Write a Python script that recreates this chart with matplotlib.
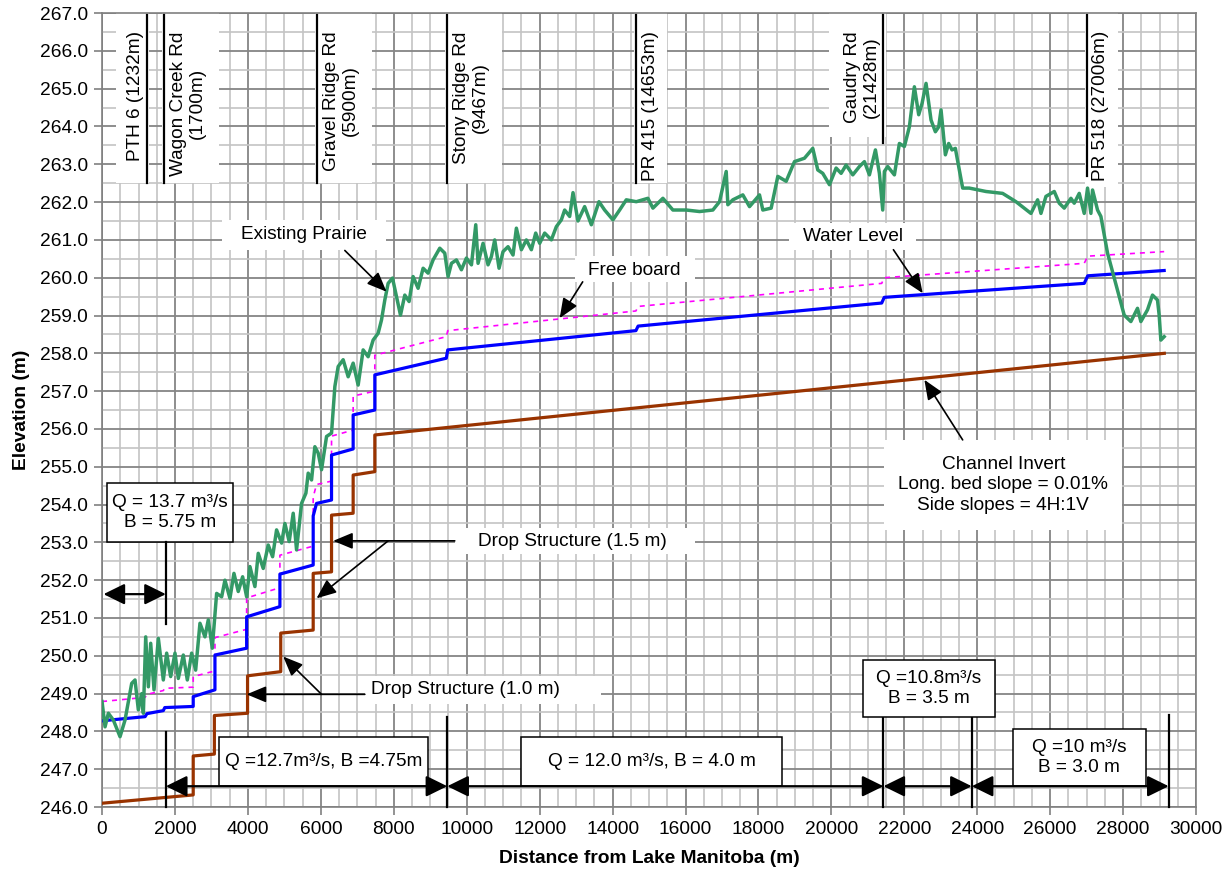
import matplotlib
matplotlib.use('Agg')
import matplotlib.pyplot as plt
from matplotlib.ticker import MultipleLocator, FormatStrFormatter
from matplotlib.patches import Rectangle

plt.rcParams['font.family'] = ['Liberation Sans', 'DejaVu Sans']

# ── data ───────────────────────────────────────────────────────
# existing prairie ground profile
gr_x = [0, 82, 173, 310, 493, 630, 813, 904, 995, 1087, 1133, 1197, 1270, 1334, 1425,
        1544, 1680, 1772, 1882, 2000, 2091, 2228, 2338, 2457, 2567, 2685, 2822, 2913,
        3023, 3142, 3280, 3370, 3507, 3617, 3735, 3855, 3965, 4055, 4192, 4283, 4420,
        4557, 4677, 4786, 4924, 5014, 5132, 5242, 5334, 5471, 5590, 5653, 5745, 5836,
        5927, 6019, 6156, 6293, 6384, 6475, 6612, 6749, 6886, 7023, 7160, 7297, 7434,
        7571, 7663, 7754, 7845, 7965, 8074, 8184, 8302, 8420, 8530, 8667, 8804, 8941,
        9078, 9261, 9398, 9489, 9581, 9718, 9855, 9992, 10130, 10248, 10311, 10448,
        10585, 10677, 10768, 10887, 10996, 11133, 11270, 11362, 11499, 11636, 11773,
        11892, 12001, 12138, 12321, 12458, 12595, 12686, 12823, 12915, 13051, 13234,
        13418, 13627, 13782, 14010, 14193, 14376, 14650, 14969, 15106, 15380, 15654,
        16020, 16385, 16750, 16933, 17116, 17161, 17298, 17572, 17755, 18029, 18120,
        18349, 18531, 18760, 18988, 19262, 19490, 19627, 19764, 19947, 20130, 20267,
        20404, 20587, 20769, 20906, 21043, 21208, 21317, 21408, 21454, 21545, 21728,
        21865, 22002, 22139, 22276, 22395, 22487, 22596, 22733, 22852, 22943, 23007,
        23126, 23217, 23308, 23400, 23600, 23783, 24240, 24696, 25062, 25473, 25656,
        25747, 25884, 26112, 26249, 26386, 26569, 26660, 26797, 26934, 27025, 27117,
        27162, 27299, 27391, 27573, 27893, 28030, 28213, 28395, 28487, 28669, 28806,
        28943, 28989, 29035, 29126]
gr_y = [248.79, 248.12, 248.48, 248.30, 247.86, 248.30, 249.27, 249.36, 248.57, 249.00,
        248.48, 250.50, 249.18, 250.33, 249.10, 250.46, 249.36, 250.07, 249.45, 250.07,
        249.40, 250.02, 249.36, 250.07, 249.62, 250.86, 250.50, 250.95, 250.20, 251.65,
        251.56, 252.00, 251.52, 252.18, 251.70, 252.09, 251.56, 252.36, 251.83, 252.71,
        252.31, 252.93, 252.62, 253.33, 252.98, 253.50, 253.02, 253.77, 252.80, 254.03,
        254.30, 254.83, 254.65, 255.53, 255.36, 254.92, 255.80, 255.89, 257.12, 257.65,
        257.83, 257.38, 257.74, 257.16, 258.09, 257.91, 258.35, 258.53, 258.88, 259.41,
        259.85, 259.99, 259.50, 259.01, 259.54, 259.37, 260.03, 259.72, 260.25, 260.12,
        260.47, 260.78, 260.65, 260.03, 260.38, 260.47, 260.21, 260.52, 260.34, 261.40,
        260.38, 260.91, 260.34, 260.56, 261.00, 260.25, 260.69, 260.82, 260.60, 261.31,
        260.74, 261.00, 260.74, 261.18, 260.91, 261.18, 261.00, 261.35, 261.53, 261.79,
        261.62, 262.25, 261.50, 261.88, 261.40, 262.01, 261.79, 261.53, 261.79, 262.06,
        262.01, 262.10, 261.84, 262.10, 261.79, 261.79, 261.75, 261.79, 262.01, 262.81,
        261.93, 262.06, 262.19, 261.88, 262.19, 261.79, 261.84, 262.68, 262.55, 263.07,
        263.16, 263.42, 262.85, 262.76, 262.46, 262.90, 262.76, 262.98, 262.72, 262.94,
        263.07, 262.72, 263.38, 262.76, 261.79, 262.81, 262.94, 262.72, 263.55, 263.47,
        263.99, 265.05, 264.31, 264.61, 265.14, 264.17, 263.86, 263.99, 264.44, 263.25,
        263.55, 263.38, 263.42, 262.37, 262.37, 262.28, 262.23, 262.01, 261.70, 262.06,
        261.70, 262.15, 262.28, 261.97, 261.84, 262.10, 261.97, 262.23, 261.70, 262.37,
        261.70, 262.32, 261.79, 261.62, 260.65, 259.50, 259.01, 258.84, 259.19, 258.84,
        259.15, 259.54, 259.41, 259.01, 258.35, 258.44]

# channel invert
inv_x = [0, 2500, 2500, 3080, 3080, 3990, 3990, 4900, 4900, 5790, 5790, 6293, 6293,
         6886, 6886, 7480, 7480, 29130]
inv_y = [246.10, 246.32, 247.35, 247.40, 248.42, 248.48, 249.47, 249.58, 250.60, 250.68,
         252.18, 252.22, 253.72, 253.77, 254.78, 254.87, 255.84, 258.00]

# water level
wl_x = [0, 1180, 1232, 1680, 1720, 2500, 2500, 3096, 3096, 3965, 3965, 4877, 4877, 5790,
        5790, 5882, 6293, 6293, 6886, 6886, 7480, 7480, 9440, 9480, 14640, 14700, 21380,
        21450, 26934, 27030, 29126]
wl_y = [248.28, 248.39, 248.47, 248.55, 248.63, 248.66, 248.92, 249.10, 250.02, 250.20,
        251.03, 251.30, 252.16, 252.40, 253.70, 254.03, 254.12, 255.31, 255.47, 256.37,
        256.50, 257.43, 257.87, 258.09, 258.60, 258.72, 259.33, 259.48, 259.85, 260.05,
        260.19]

# free board
fb_x = wl_x
fb_y = [248.79, 248.90, 248.98, 249.08, 249.14, 249.17, 249.45, 249.60, 250.48, 250.70,
        251.53, 251.80, 252.66, 252.90, 254.20, 254.53, 254.62, 255.81, 255.97, 256.87,
        257.00, 257.95, 258.44, 258.60, 259.12, 259.24, 259.85, 260.00, 260.38, 260.57,
        260.69]

# road crossings
roads_x = [1232, 1700, 5900, 9467, 14653, 21428, 27006]
roads_lbl = ['PTH 6 (1232m)', 'Wagon Creek Rd\n(1700m)', 'Gravel Ridge Rd\n(5900m)',
             'Stony Ridge Rd\n(9467m)', 'PR 415 (14653m)', 'Gaudry Rd\n(21428m)',
             'PR 518 (27006m)']

# design flow reaches
reach_x = [1750, 9467, 21428, 23850, 29250]
reach_lbl = ['Q =12.7m³/s, B =4.75m', 'Q = 12.0 m³/s, B = 4.0 m',
             'Q =10.8m³/s\nB = 3.5 m', 'Q =10 m³/s\nB = 3.0 m']

FS = 13.7
fig = plt.figure(figsize=(12.31, 8.75), dpi=100)
ax = fig.add_axes([0.0829, 0.0777, 0.8887, 0.9074])
ax.set_xlim(0, 30000)
ax.set_ylim(246, 267)
ax.xaxis.set_major_locator(MultipleLocator(2000))
ax.xaxis.set_minor_locator(MultipleLocator(500))
ax.yaxis.set_major_locator(MultipleLocator(1))
ax.yaxis.set_minor_locator(MultipleLocator(0.5))
ax.yaxis.set_major_formatter(FormatStrFormatter('%.1f'))
ax.grid(which='minor', color='#c4c4c4', lw=1.2)
ax.grid(which='major', color='#858585', lw=1.3)
ax.set_axisbelow(True)
ax.tick_params(which='major', direction='out', length=6, width=1.2, color='#808080',
               labelsize=13.8, pad=4)
ax.tick_params(which='minor', length=0)
for s in ax.spines.values():
    s.set_color('#808080'); s.set_linewidth(1.2)

ax.set_xlabel('Distance from Lake Manitoba (m)', fontsize=13.8, fontweight='bold', labelpad=9)
ax.set_ylabel('Elevation (m)', fontsize=13.8, fontweight='bold', labelpad=7)

# profiles
ax.plot(inv_x, inv_y, color='#993300', lw=2.3, zorder=4)
ax.plot(fb_x, fb_y, color='#ff00ff', lw=1.2, ls=(0, (3, 3)), zorder=4)
ax.plot(wl_x, wl_y, color='#0000ff', lw=2.3, zorder=4)
ax.plot(gr_x, gr_y, color='#339966', lw=2.5, zorder=5, solid_joinstyle='round')

# road crossings: white panel, black line, rotated label
sides = [-1, 1, 1, 1, 1, -1, 1]
bottoms = [262.5, 262.5, 262.5, 262.5, 262.5, 263.56, 262.7]
panel_b = [262.5, 262.5, 262.5, 262.5, 262.5, 263.72, 262.4]
for x, lbl, sd, b, pb in zip(roads_x, roads_lbl, sides, bottoms, panel_b):
    w = 1500 if '\n' in lbl else 850
    x0 = x - w if sd < 0 else x - 60
    ax.add_patch(Rectangle((x0, pb), w + 60, 267 - pb, fc='white', ec='none', zorder=2.5))
    ax.plot([x, x], [b, 266.95], color='black', lw=1.6, zorder=6)
    ax.text(x + sd * (90 if sd < 0 else 150), 266.52, lbl, rotation=90, fontsize=FS,
            ha='right' if sd < 0 else 'left', va='top', multialignment='center', zorder=7)

AP = dict(arrowstyle='-|>,head_length=0.6,head_width=0.25', color='black', lw=1.2,
          mutation_scale=20, shrinkA=0, shrinkB=0)
DAP = dict(arrowstyle='<|-|>,head_length=0.65,head_width=0.32', color='black', lw=1.6,
           mutation_scale=20, shrinkA=0, shrinkB=0)


def label_box(x0, x1, y0, y1, txt, tx=None, ty=None, border=False):
    ax.add_patch(Rectangle((x0, y0), x1 - x0, y1 - y0, fc='white',
                           ec='black' if border else 'none', lw=1.1, zorder=6))
    ax.text((x0 + x1) / 2 if tx is None else tx, (y0 + y1) / 2 if ty is None else ty, txt,
            fontsize=FS, ha='center', va='center', multialignment='center',
            linespacing=1.25, zorder=7)


# callouts
label_box(3288, 7782, 260.74, 261.53, 'Existing Prairie')
ax.annotate('', xy=(7800, 259.63), xytext=(6658, 260.72), arrowprops=AP, zorder=7)
label_box(12960, 16248, 259.89, 260.58, 'Free board', ty=260.2)
ax.annotate('', xy=(12549, 258.93), xytext=(13180, 259.89), arrowprops=AP, zorder=7)
label_box(18851, 22331, 260.74, 261.45, 'Water Level', ty=261.08)
ax.annotate('', xy=(22504, 259.59), xytext=(21701, 260.74), arrowprops=AP, zorder=7)
label_box(21454, 27975, 253.33, 255.71,
          'Channel Invert\nLong. bed slope = 0.01%\nSide slopes = 4H:1V')
ax.annotate('', xy=(22550, 257.3), xytext=(23600, 255.71), arrowprops=AP, zorder=7)
label_box(9672, 16248, 252.69, 253.38, 'Drop Structure (1.5 m)', tx=12900)
ax.annotate('', xy=(6338, 253.04), xytext=(9672, 253.04), arrowprops=AP, zorder=7)
ax.annotate('', xy=(5882, 251.52), xytext=(7845, 253.04), arrowprops=AP, zorder=7)
label_box(7206, 13673, 248.72, 249.47, 'Drop Structure (1.0 m)', tx=9960)
ax.annotate('', xy=(3965, 248.98), xytext=(7206, 248.98), arrowprops=AP, zorder=7)
ax.annotate('', xy=(4968, 249.98), xytext=(6019, 248.98), arrowprops=AP, zorder=7)

# upstream reach (Q = 13.7)
label_box(129, 3598, 253.02, 254.56, 'Q = 13.7 m³/s\nB = 5.75 m', border=True)
ax.plot([reach_x[0], reach_x[0]], [250.85, 253.02], color='black', lw=1.6, zorder=6)
ax.annotate('', xy=(40, 251.63), xytext=(reach_x[0], 251.63), arrowprops=DAP, zorder=7)

# reaches along the bottom
tops = [247.99, 248.39, 248.39, 248.39, 248.43]
for x, t in zip(reach_x, tops):
    ax.plot([x, x], [246.0, t], color='black', lw=1.6, zorder=6, clip_on=False)
for a, b in zip(reach_x[:-1], reach_x[1:]):
    ax.annotate('', xy=(a, 246.55), xytext=(b, 246.55), arrowprops=DAP, zorder=7)

label_box(3214, 8940, 246.56, 247.86, reach_lbl[0], border=True)
label_box(11500, 18650, 246.56, 247.86, reach_lbl[1], border=True)
label_box(20860, 24496, 248.39, 249.89, reach_lbl[2], border=True)
label_box(24970, 28625, 246.56, 248.06, reach_lbl[3], border=True)

plt.savefig('out.png', dpi=100)
